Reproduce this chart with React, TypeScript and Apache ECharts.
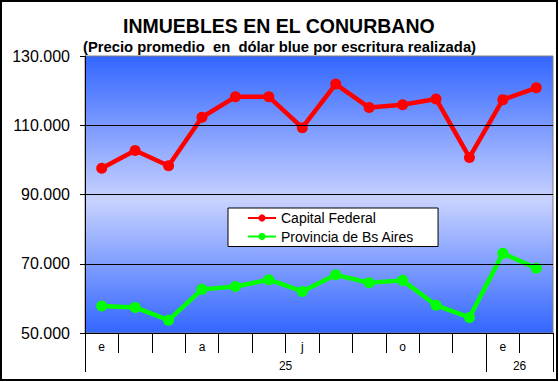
import React, { useEffect, useRef } from "react";
import * as echarts from "echarts";

const months = ["e", "f", "m", "a", "m", "j", "j", "a", "s", "o", "n", "d", "e", "f"];
const years = ["25", "26"];
const yearSpans = [12, 2];
const capitalFederal = [97600, 102700, 98300, 112300, 118200, 118200, 109300, 121900, 115100, 115900, 117600, 100700, 117400, 120800];
const provinciaBsAs = [57800, 57400, 53700, 62600, 63400, 65400, 62000, 66800, 64500, 65200, 58000, 54500, 73000, 68700];
const gridValues = [70000, 90000, 110000];
const yMin = 50000;
const yMax = 130000;
const yStep = 20000;

const FONT = "'Liberation Sans', Arial, sans-serif";

function fmt(v: number): string {
  return String(v).replace(/\B(?=(\d{3})+(?!\d))/g, ".");
}

export default function App() {
  const ref = useRef<HTMLDivElement>(null);
  useEffect(() => {
    if (!ref.current) return;
    const chart = echarts.init(ref.current, null, { renderer: "svg" });

    const boundaries: string[] = new Array(months.length + 1).fill("");
    const sepIdx = new Set<number>([0]);
    let acc = 0;
    years.forEach((y, i) => {
      const span = yearSpans[i];
      const center = acc + span / 2;
      boundaries[Math.round(center)] = y;
      acc += span;
      sepIdx.add(acc);
    });

    chart.setOption({
      animation: false,
      backgroundColor: "#ffffff",
      textStyle: { fontFamily: FONT },
      title: [
        {
          text: "INMUEBLES EN EL CONURBANO",
          left: 123,
          top: 15,
          padding: 0,
          textStyle: { fontSize: 19.5, fontWeight: "bold", color: "#000", fontFamily: FONT, lineHeight: 21 },
        },
        {
          text: "(Precio promedio  en  dólar blue por escritura realizada)",
          left: 83,
          top: 39,
          padding: 0,
          textStyle: { fontSize: 14.8, fontWeight: "bold", color: "#000", fontFamily: FONT, lineHeight: 15 },
        },
      ],
      legend: {
        data: ["Capital Federal", "Provincia de Bs Aires"],
        orient: "vertical",
        left: 228,
        top: 208,
        backgroundColor: "#ffffff",
        borderColor: "#000000",
        borderWidth: 1,
        borderRadius: 0,
        padding: [2, 24, 2, 19],
        itemWidth: 28,
        itemHeight: 9,
        itemGap: 2.5,
        textStyle: { fontSize: 14, color: "#000", fontFamily: FONT, lineHeight: 16 },
      },
      grid: {
        left: 85,
        right: 6,
        top: 56,
        bottom: 49,
        show: true,
        borderColor: "#808080",
        borderWidth: 1,
        backgroundColor: new echarts.graphic.LinearGradient(0, 0, 0, 1, [
          { offset: 0, color: "#3366ff" },
          { offset: 0.52, color: "#c8d2ff" },
          { offset: 1, color: "#3366ff" },
        ]),
      },
      xAxis: [
        {
          type: "category",
          data: months,
          position: "bottom",
          boundaryGap: true,
          axisLine: { show: true, lineStyle: { color: "#000", width: 1 } },
          axisTick: { show: true, interval: 0, length: 20, lineStyle: { color: "#000", width: 1 } },
          axisLabel: { interval: 2, margin: 8, fontSize: 12, color: "#000", fontFamily: FONT },
          splitLine: { show: false },
        },
        {
          type: "category",
          data: boundaries,
          position: "bottom",
          offset: 0,
          boundaryGap: false,
          axisLine: { show: false },
          axisTick: {
            show: true,
            interval: (index: number) => sepIdx.has(index),
            length: 39,
            lineStyle: { color: "#000", width: 1 },
          },
          axisLabel: { interval: 0, margin: 27, fontSize: 12, color: "#000", fontFamily: FONT },
          splitLine: { show: false },
        },
      ],
      yAxis: {
        type: "value",
        min: yMin,
        max: yMax,
        interval: yStep,
        axisLine: { show: true, lineStyle: { color: "#000", width: 1 } },
        axisTick: { show: true, length: 5, lineStyle: { color: "#000", width: 1 } },
        axisLabel: { margin: 15, fontSize: 16, color: "#000", fontFamily: FONT, formatter: (v: number) => fmt(v) },
        splitLine: { show: false },
      },
      graphic: [
        {
          type: "rect",
          shape: { x: 1, y: 1, width: 556, height: 379 },
          style: { fill: "none", stroke: "#000", lineWidth: 2 },
          silent: true,
          z: 100,
        },
      ],
      series: [
        {
          name: "grid",
          type: "line",
          data: [],
          z: 1,
          silent: true,
          markLine: {
            silent: true,
            symbol: ["none", "none"],
            label: { show: false },
            lineStyle: { color: "#000", width: 1, type: "solid" },
            data: gridValues.map((v) => ({ yAxis: v })),
          },
        },
        {
          name: "Capital Federal",
          type: "line",
          data: capitalFederal,
          z: 3,
          symbol: "circle",
          symbolSize: 11,
          lineStyle: { color: "#ff0000", width: 4.5 },
          itemStyle: { color: "#ff0000" },
        },
        {
          name: "Provincia de Bs Aires",
          type: "line",
          data: provinciaBsAs,
          z: 3,
          symbol: "circle",
          symbolSize: 11,
          lineStyle: { color: "#00ff00", width: 4.5 },
          itemStyle: { color: "#00ff00" },
        },
      ],
    });
    return () => chart.dispose();
  }, []);
  return <div ref={ref} style={{ position: "fixed", left: 0, top: 0, width: 559, height: 382 }} />;
}
